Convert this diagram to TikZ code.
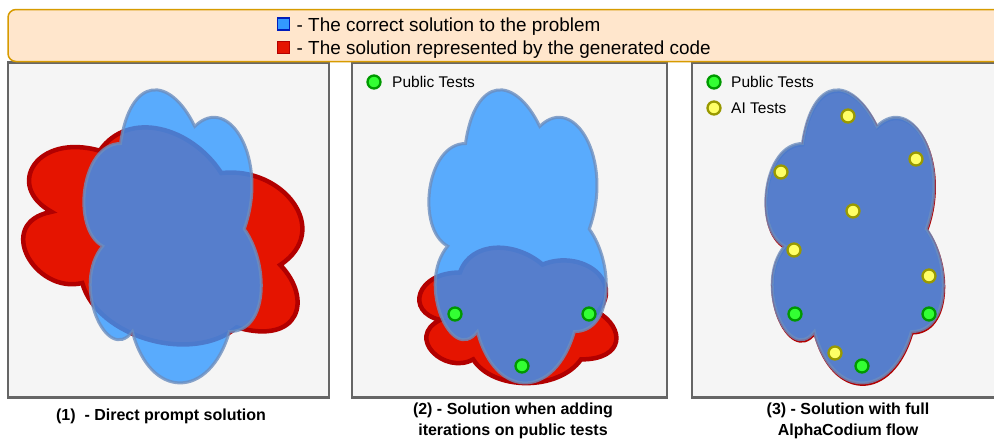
\documentclass[tikz,border=0pt]{standalone}
\usepackage{fontspec}
\setmainfont{Liberation Sans}

\definecolor{legendfill}{HTML}{FFE6CC}
\definecolor{legendline}{HTML}{D79B00}
\definecolor{panelfill}{HTML}{F5F5F5}
\definecolor{panelline}{HTML}{666666}
\definecolor{solblue}{HTML}{3399FF}
\definecolor{solblueline}{HTML}{6C8EBF}
\definecolor{solbluebox}{HTML}{001DBC}
\definecolor{codered}{HTML}{E51400}
\definecolor{coderedline}{HTML}{B20000}
\definecolor{pubfill}{HTML}{33FF33}
\definecolor{publine}{HTML}{009900}
\definecolor{aifill}{HTML}{FFFF66}
\definecolor{ailine}{HTML}{999900}

% cloud outline in a unit box (y pointing down)
\newcommand{\cloudoutline}{(0.25,0.25) .. controls (0.05,0.25) and (0,0.5) .. (0.16,0.55)
  .. controls (0,0.66) and (0.18,0.9) .. (0.31,0.8)
  .. controls (0.4,1) and (0.7,1) .. (0.8,0.8)
  .. controls (1,0.8) and (1,0.6) .. (0.875,0.5)
  .. controls (1,0.3) and (0.8,0.1) .. (0.625,0.2)
  .. controls (0.5,0.05) and (0.3,0.05) .. (0.25,0.25) -- cycle}

\begin{document}
\begin{tikzpicture}[x=1pt,y=-1pt,
  panel/.style={draw=panelline, fill=panelfill, line width=2.3pt},
  truecloud/.style={draw=solblueline, fill=solblue, line width=3pt, opacity=0.8},
  codecloud/.style={draw=coderedline, fill=codered, line width=4.5pt},
  testdot/.style={circle, line width=2.3pt, minimum size=13pt, inner sep=0pt},
  pubdot/.style={testdot, draw=publine, fill=pubfill},
  aidot/.style={testdot, draw=ailine, fill=aifill},
  legendtext/.style={anchor=base west, inner sep=0pt, font=\fontsize{18.9}{22}\selectfont},
  paneltext/.style={anchor=base west, inner sep=0pt, font=\fontsize{15.5}{19}\selectfont},
  caption/.style={anchor=base, inner sep=0pt, align=center, font=\fontsize{16}{21}\selectfont\bfseries},
  keybox/.style={minimum size=12pt, inner sep=0pt, line width=1.2pt}]

\useasboundingbox (0,0) rectangle (994,442);
\fill[white] (0,0) rectangle (994,442);

% the three panels
\draw[panel] (8,62.5) rectangle (329,397.5);
\draw[panel] (352,62.5) rectangle (667,397.5);
\draw[panel] (692,62.5) rectangle (1010,397.5);

% legend strip
\draw[draw=legendline, fill=legendfill, line width=1.5pt, rounded corners=8pt]
  (8,9.5) rectangle (1010,61.5);
\node[keybox, draw=solbluebox, fill=solblue] (keyblue) at (283.5,24) {};
\node[keybox, draw=coderedline, fill=codered] (keyred) at (283.5,47.5) {};
\node[legendtext] (keybluetext) at (296.5,31) {- The correct solution to the problem};
\node[legendtext] (keyredtext) at (296.5,54) {- The solution represented by the generated code};

% panel 1: direct prompt solution
\begin{scope}[shift={(162,231)}, rotate=-16, xscale=328, yscale=240, shift={(-0.5,-0.5)}]
  \draw[codecloud] \cloudoutline;
\end{scope}
\begin{scope}[shift={(71,58)}, xscale=198, yscale=342]
  \draw[truecloud] \cloudoutline;
\end{scope}

% panel 2: iterations on public tests
\begin{scope}[shift={(405,233)}, xscale=220, yscale=158]
  \draw[codecloud] \cloudoutline;
\end{scope}
\begin{scope}[shift={(416,58)}, xscale=198, yscale=342]
  \draw[truecloud] \cloudoutline;
\end{scope}
\node[pubdot] (p2a) at (455,314) {};
\node[pubdot] (p2b) at (589,314) {};
\node[pubdot] (p2c) at (522,366) {};
\node[pubdot] (p2key) at (374,82) {};
\node[paneltext] (p2keytext) at (392,87) {Public Tests};

% panel 3: full AlphaCodium flow
\begin{scope}[shift={(753.5,59.5)}, xscale=198, yscale=342]
  \draw[codecloud, line width=3pt] \cloudoutline;
\end{scope}
\begin{scope}[shift={(753,58)}, xscale=198, yscale=342]
  \draw[truecloud] \cloudoutline;
\end{scope}
\node[aidot] (a1) at (848,116) {};
\node[aidot] (a2) at (916,159) {};
\node[aidot] (a3) at (781,172) {};
\node[aidot] (a4) at (853,211) {};
\node[aidot] (a5) at (794,250) {};
\node[aidot] (a6) at (929,276) {};
\node[aidot] (a7) at (835,353) {};
\node[pubdot] (p3a) at (795,314) {};
\node[pubdot] (p3b) at (929,314) {};
\node[pubdot] (p3c) at (862,366) {};
\node[pubdot] (p3key) at (714,82) {};
\node[aidot] (a3key) at (714,108) {};
\node[paneltext] (p3keytext) at (731,87) {Public Tests};
\node[paneltext] (a3keytext) at (731,113) {AI Tests};

% captions (base anchor sits on the last line)
\node[caption] (cap1) at (161,420) {(1)\ \ - Direct prompt solution};
\node[caption] (cap2) at (513,435) {(2) - Solution when adding\\iterations on public tests};
\node[caption] (cap3) at (848,435) {(3) - Solution with full\\AlphaCodium flow};
\end{tikzpicture}
\end{document}
